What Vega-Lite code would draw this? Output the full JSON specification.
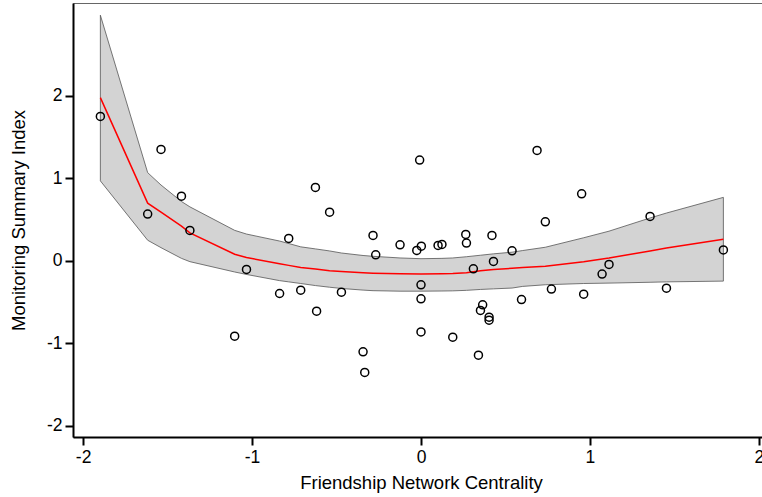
{
  "$schema": "https://vega.github.io/schema/vega-lite/v6.json",
  "autosize": "none",
  "padding": {"left": 73, "top": 3, "right": 0, "bottom": 60},
  "width": 696,
  "height": 434,
  "background": "white",
  "config": {
    "view": {"stroke": "#666666", "strokeWidth": 1},
    "axis": {
      "grid": false,
      "domainColor": "black",
      "domainWidth": 2,
      "tickColor": "black",
      "tickWidth": 2,
      "tickSize": 8,
      "labelColor": "black",
      "labelFont": "Liberation Sans",
      "labelFontSize": 17.5,
      "titleFont": "Liberation Sans",
      "titleFontSize": 18.5,
      "titleFontWeight": "normal",
      "titleColor": "black",
      "labelExpr": "'' + datum.value"
    }
  },
  "datasets": {
    "pts": [
      {"x": -1.898, "y": 1.752}, {"x": -1.539, "y": 1.352}, {"x": -1.618, "y": 0.567},
      {"x": -1.418, "y": 0.785}, {"x": -1.368, "y": 0.369}, {"x": -0.625, "y": 0.891},
      {"x": -0.541, "y": 0.591}, {"x": -0.783, "y": 0.272}, {"x": -1.033, "y": -0.104},
      {"x": -0.837, "y": -0.396}, {"x": -0.712, "y": -0.356}, {"x": -0.618, "y": -0.61},
      {"x": -0.471, "y": -0.38}, {"x": -1.103, "y": -0.914}, {"x": -0.343, "y": -1.104},
      {"x": -0.333, "y": -1.354}, {"x": -0.268, "y": 0.073}, {"x": -0.008, "y": 1.222},
      {"x": -0.284, "y": 0.308}, {"x": -0.124, "y": 0.194}, {"x": -0.025, "y": 0.126},
      {"x": 0.002, "y": 0.178}, {"x": 0.101, "y": 0.187}, {"x": 0.124, "y": 0.199},
      {"x": 0.265, "y": 0.32}, {"x": 0.269, "y": 0.215}, {"x": 0.42, "y": 0.308},
      {"x": 0.539, "y": 0.121}, {"x": 0.429, "y": -0.007}, {"x": 0.31, "y": -0.097},
      {"x": 0.0, "y": -0.291}, {"x": 0.0, "y": -0.461}, {"x": 0.0, "y": -0.862},
      {"x": 0.188, "y": -0.926}, {"x": 0.34, "y": -1.144}, {"x": 0.365, "y": -0.534},
      {"x": 0.352, "y": -0.602}, {"x": 0.403, "y": -0.683}, {"x": 0.403, "y": -0.72},
      {"x": 0.595, "y": -0.47}, {"x": 0.687, "y": 1.34}, {"x": 0.951, "y": 0.813},
      {"x": 0.736, "y": 0.473}, {"x": 1.356, "y": 0.539}, {"x": 1.79, "y": 0.133},
      {"x": 1.113, "y": -0.044}, {"x": 1.072, "y": -0.161}, {"x": 0.772, "y": -0.343},
      {"x": 0.963, "y": -0.404}, {"x": 1.453, "y": -0.331}
    ],
    "fit": [
      {"x": -1.898, "fit": 1.98, "lo": 0.97, "hi": 2.98},
      {"x": -1.618, "fit": 0.7, "lo": 0.25, "hi": 1.07},
      {"x": -1.539, "fit": 0.59, "lo": 0.16, "hi": 0.92},
      {"x": -1.418, "fit": 0.42, "lo": 0.03, "hi": 0.72},
      {"x": -1.368, "fit": 0.34, "lo": -0.01, "hi": 0.655},
      {"x": -1.103, "fit": 0.08, "lo": -0.135, "hi": 0.37},
      {"x": -1.033, "fit": 0.04, "lo": -0.165, "hi": 0.325},
      {"x": -0.837, "fit": -0.035, "lo": -0.24, "hi": 0.24},
      {"x": -0.783, "fit": -0.055, "lo": -0.255, "hi": 0.21},
      {"x": -0.712, "fit": -0.08, "lo": -0.275, "hi": 0.17},
      {"x": -0.625, "fit": -0.1, "lo": -0.3, "hi": 0.145},
      {"x": -0.541, "fit": -0.12, "lo": -0.32, "hi": 0.12},
      {"x": -0.471, "fit": -0.13, "lo": -0.335, "hi": 0.095},
      {"x": -0.343, "fit": -0.145, "lo": -0.355, "hi": 0.065},
      {"x": -0.284, "fit": -0.15, "lo": -0.362, "hi": 0.055},
      {"x": -0.124, "fit": -0.158, "lo": -0.368, "hi": 0.035},
      {"x": 0.0, "fit": -0.16, "lo": -0.368, "hi": 0.026},
      {"x": 0.124, "fit": -0.158, "lo": -0.366, "hi": 0.03},
      {"x": 0.188, "fit": -0.155, "lo": -0.364, "hi": 0.035},
      {"x": 0.269, "fit": -0.145, "lo": -0.358, "hi": 0.05},
      {"x": 0.352, "fit": -0.12, "lo": -0.347, "hi": 0.068},
      {"x": 0.429, "fit": -0.105, "lo": -0.34, "hi": 0.085},
      {"x": 0.539, "fit": -0.09, "lo": -0.33, "hi": 0.105},
      {"x": 0.602, "fit": -0.08, "lo": -0.31, "hi": 0.125},
      {"x": 0.736, "fit": -0.065, "lo": -0.29, "hi": 0.165},
      {"x": 0.963, "fit": -0.01, "lo": -0.275, "hi": 0.28},
      {"x": 1.113, "fit": 0.035, "lo": -0.27, "hi": 0.36},
      {"x": 1.356, "fit": 0.12, "lo": -0.26, "hi": 0.52},
      {"x": 1.453, "fit": 0.155, "lo": -0.255, "hi": 0.58},
      {"x": 1.79, "fit": 0.262, "lo": -0.246, "hi": 0.77}
    ]
  },
  "layer": [
    {
      "data": {"name": "fit"},
      "mark": {"type": "area", "fill": "#d3d3d3", "stroke": "#555555", "strokeWidth": 0.8},
      "encoding": {
        "x": {"field": "x", "type": "quantitative", "sort": null,
              "scale": {"domain": [-2.06, 2.06], "nice": false, "zero": false},
              "axis": {"values": [-2, -1, 0, 1, 2], "title": "Friendship Network Centrality", "labelPadding": 3, "titlePadding": 8}},
        "y": {"field": "lo", "type": "quantitative",
              "scale": {"domain": [-2.137, 3.128], "nice": false, "zero": false},
              "axis": {"values": [-2, -1, 0, 1, 2], "title": "Monitoring Summary Index", "labelPadding": 3, "titlePadding": 18}},
        "y2": {"field": "hi"}
      }
    },
    {
      "data": {"name": "fit"},
      "mark": {"type": "line", "color": "#ff0000", "strokeWidth": 1.5},
      "encoding": {
        "x": {"field": "x", "type": "quantitative"},
        "y": {"field": "fit", "type": "quantitative"}
      }
    },
    {
      "data": {"name": "pts"},
      "mark": {"type": "point", "shape": "circle", "filled": false, "stroke": "black", "strokeWidth": 1.5, "size": 64, "opacity": 1},
      "encoding": {
        "x": {"field": "x", "type": "quantitative"},
        "y": {"field": "y", "type": "quantitative"}
      }
    }
  ]
}
